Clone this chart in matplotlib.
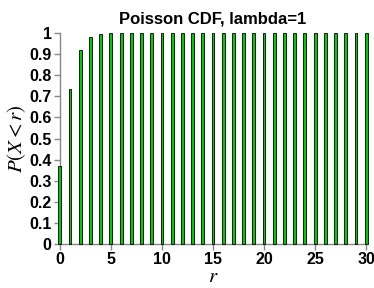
import matplotlib
matplotlib.use('Agg')
import matplotlib.pyplot as plt

r = list(range(31))
cdf = [0.368, 0.736, 0.920, 0.981, 0.996, 0.999, 1.0, 1.0, 1.0, 1.0,
       1.0, 1.0, 1.0, 1.0, 1.0, 1.0, 1.0, 1.0, 1.0, 1.0,
       1.0, 1.0, 1.0, 1.0, 1.0, 1.0, 1.0, 1.0, 1.0, 1.0, 1.0]
yticks = [0, 0.1, 0.2, 0.3, 0.4, 0.5, 0.6, 0.7, 0.8, 0.9, 1]
ylabels = ['0', '0.1', '0.2', '0.3', '0.4', '0.5', '0.6', '0.7', '0.8', '0.9', '1']
xticks = [0, 5, 10, 15, 20, 25, 30]

plt.rcParams['font.family'] = ['Liberation Sans', 'DejaVu Sans']
plt.rcParams['mathtext.fontset'] = 'stix'

fig = plt.figure(figsize=(3.74, 2.88), dpi=100)
ax = fig.add_axes([0.160, 0.153, 0.819, 0.732])

bars = ax.bar(r, cdf, width=0.28, color='#00cc00', edgecolor='black',
              linewidth=0.6, zorder=3)
for b in bars:
    b.set_clip_on(False)

ax.set_xlim(0, 30)
ax.set_ylim(0, 1)
ax.set_xticks(xticks)
ax.set_yticks(yticks)
ax.set_yticklabels(ylabels)
for lab in ax.get_xticklabels() + ax.get_yticklabels():
    lab.set_fontweight('bold')
    lab.set_fontsize(11.5)

for s in ['top', 'right']:
    ax.spines[s].set_visible(False)
for s in ['left', 'bottom']:
    ax.spines[s].set_color('#888888')
    ax.spines[s].set_linewidth(1.0)
ax.tick_params(colors='#888888', labelcolor='black', length=4, width=1, direction='out', pad=2)

ax.set_title('Poisson CDF, lambda=1', fontsize=12, fontweight='bold', pad=7)
ax.set_xlabel(r'$r$', fontsize=15, labelpad=0)
ax.set_ylabel(r'$P(X < r)$', fontsize=15, labelpad=1)

plt.savefig('out.png', dpi=100)
